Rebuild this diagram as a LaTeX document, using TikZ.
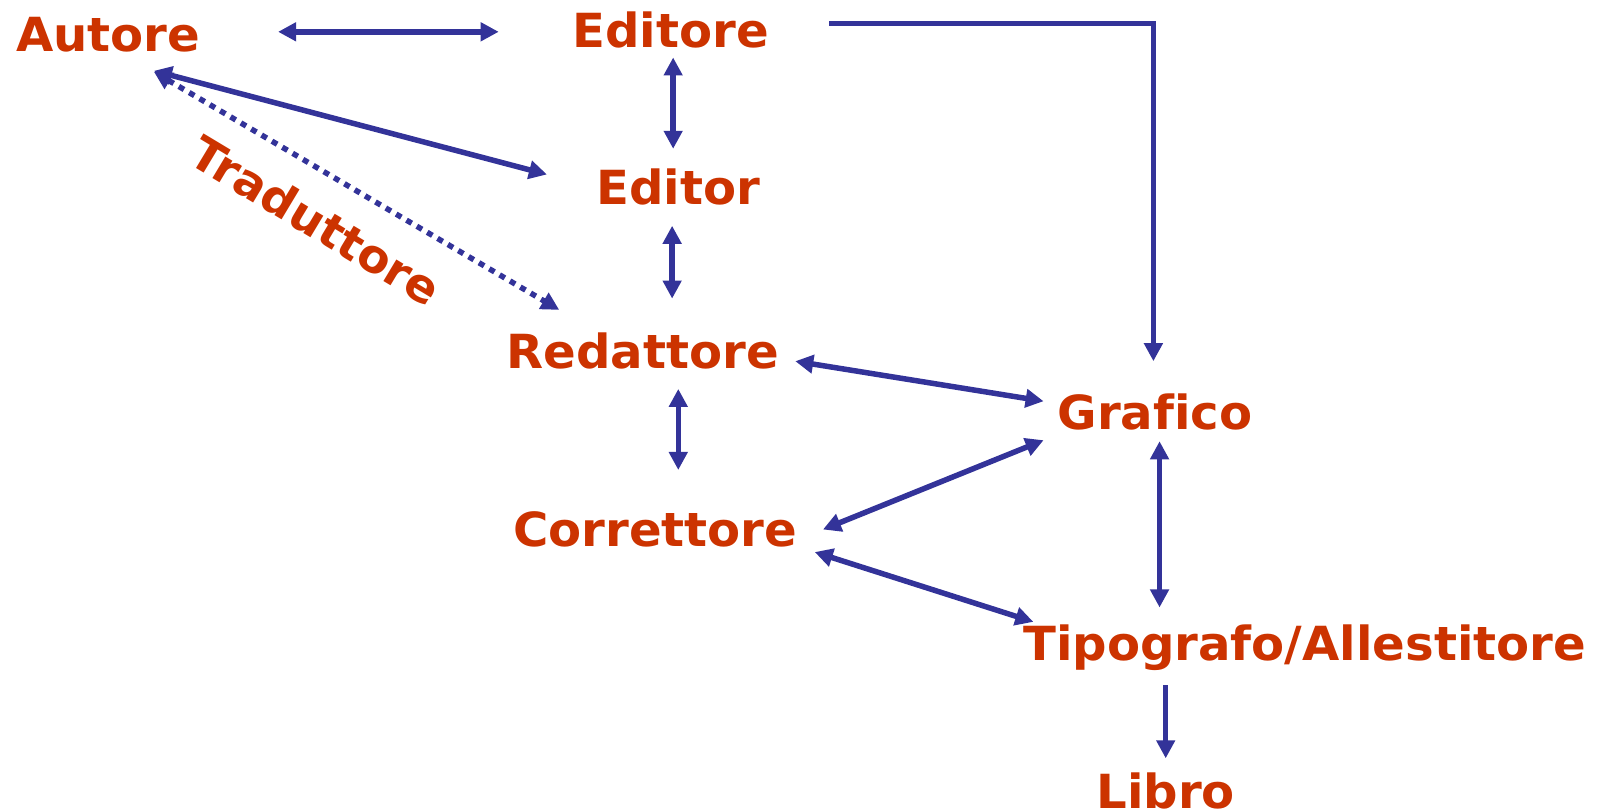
\documentclass[tikz,border=0pt]{standalone}
\usepackage{fontspec}
\setmainfont{DejaVu Sans}[Ligatures=NoCommon, FakeStretch=1.025]
\usetikzlibrary{arrows.meta}
\definecolor{lab}{RGB}{204,51,0}
\definecolor{arr}{RGB}{51,51,153}
\tikzset{
  lbl/.style={text=lab, font=\bfseries\fontsize{47}{56}\selectfont, inner sep=0pt, anchor=base},
  conn/.style={draw=arr, line width=5.5pt},
  tipT/.tip={Triangle[length=18pt,width=18pt]},
  dbl/.style={conn, tipT-tipT},
  sgl/.style={conn, -tipT},
  dots/.style={conn, line width=5.5pt, dash pattern=on 6pt off 6pt, tipT-tipT}
}
\begin{document}
\begin{tikzpicture}[x=1.026pt,y=-1.026pt]
\useasboundingbox (0,0) rectangle (1568,790.4);
\node[lbl] (autore) at (105.5,50) {Autore};
\node[lbl] (editore) at (653.5,46) {Editore};
\node[lbl] (editor) at (661,199) {Editor};
\node[lbl] (redattore) at (626.5,359) {Redattore};
\node[lbl] (grafico) at (1125.5,419) {Grafico};
\node[lbl] (correttore) at (638.5,533) {Correttore};
\node[lbl] (tipo) at (1271.5,644) {Tipografo/Allestitore};
\node[lbl, text depth=0pt] (libro) at (1136,788) {Libro};
\node[text=lab, font=\bfseries\fontsize{46}{55}\selectfont, inner sep=0pt, rotate=-31] (tradu) at (308,215) {Traduttore};

\draw[dbl] ([shift={(165.5,-19)}]autore.base) -- ([shift={(-167.5,-15)}]editore.base);
\draw[sgl] ([shift={(154.5,-23)}]editore.base) -| ([shift={(-1.5,-67)}]grafico.base);
\draw[dbl] ([shift={(2.5,10)}]editore.base) -- ([shift={(-5,-54)}]editor.base);
\draw[dbl] ([shift={(44.5,19)}]autore.base) -- ([shift={(-128,-29)}]editor.base);
\draw[dots] ([shift={(44.5,20)}]autore.base) -- ([shift={(-81.5,-57)}]redattore.base);
\draw[dbl] ([shift={(-6,21)}]editor.base) -- ([shift={(28.5,-68)}]redattore.base);
\draw[dbl] ([shift={(148.5,-7)}]redattore.base) -- ([shift={(-108.5,-28)}]grafico.base);
\draw[dbl] ([shift={(34.5,20)}]redattore.base) -- ([shift={(22.5,-75)}]correttore.base);
\draw[dbl] ([shift={(-108.5,10)}]grafico.base) -- ([shift={(163.5,-17)}]correttore.base);
\draw[dbl] ([shift={(155.5,5)}]correttore.base) -- ([shift={(-264.5,-38)}]tipo.base);
\draw[dbl] ([shift={(4.5,11)}]grafico.base) -- ([shift={(-141.5,-52)}]tipo.base);
\draw[sgl] ([shift={(-135.5,24)}]tipo.base) -- ([shift={(0,-49)}]libro.base);
\end{tikzpicture}
\end{document}
